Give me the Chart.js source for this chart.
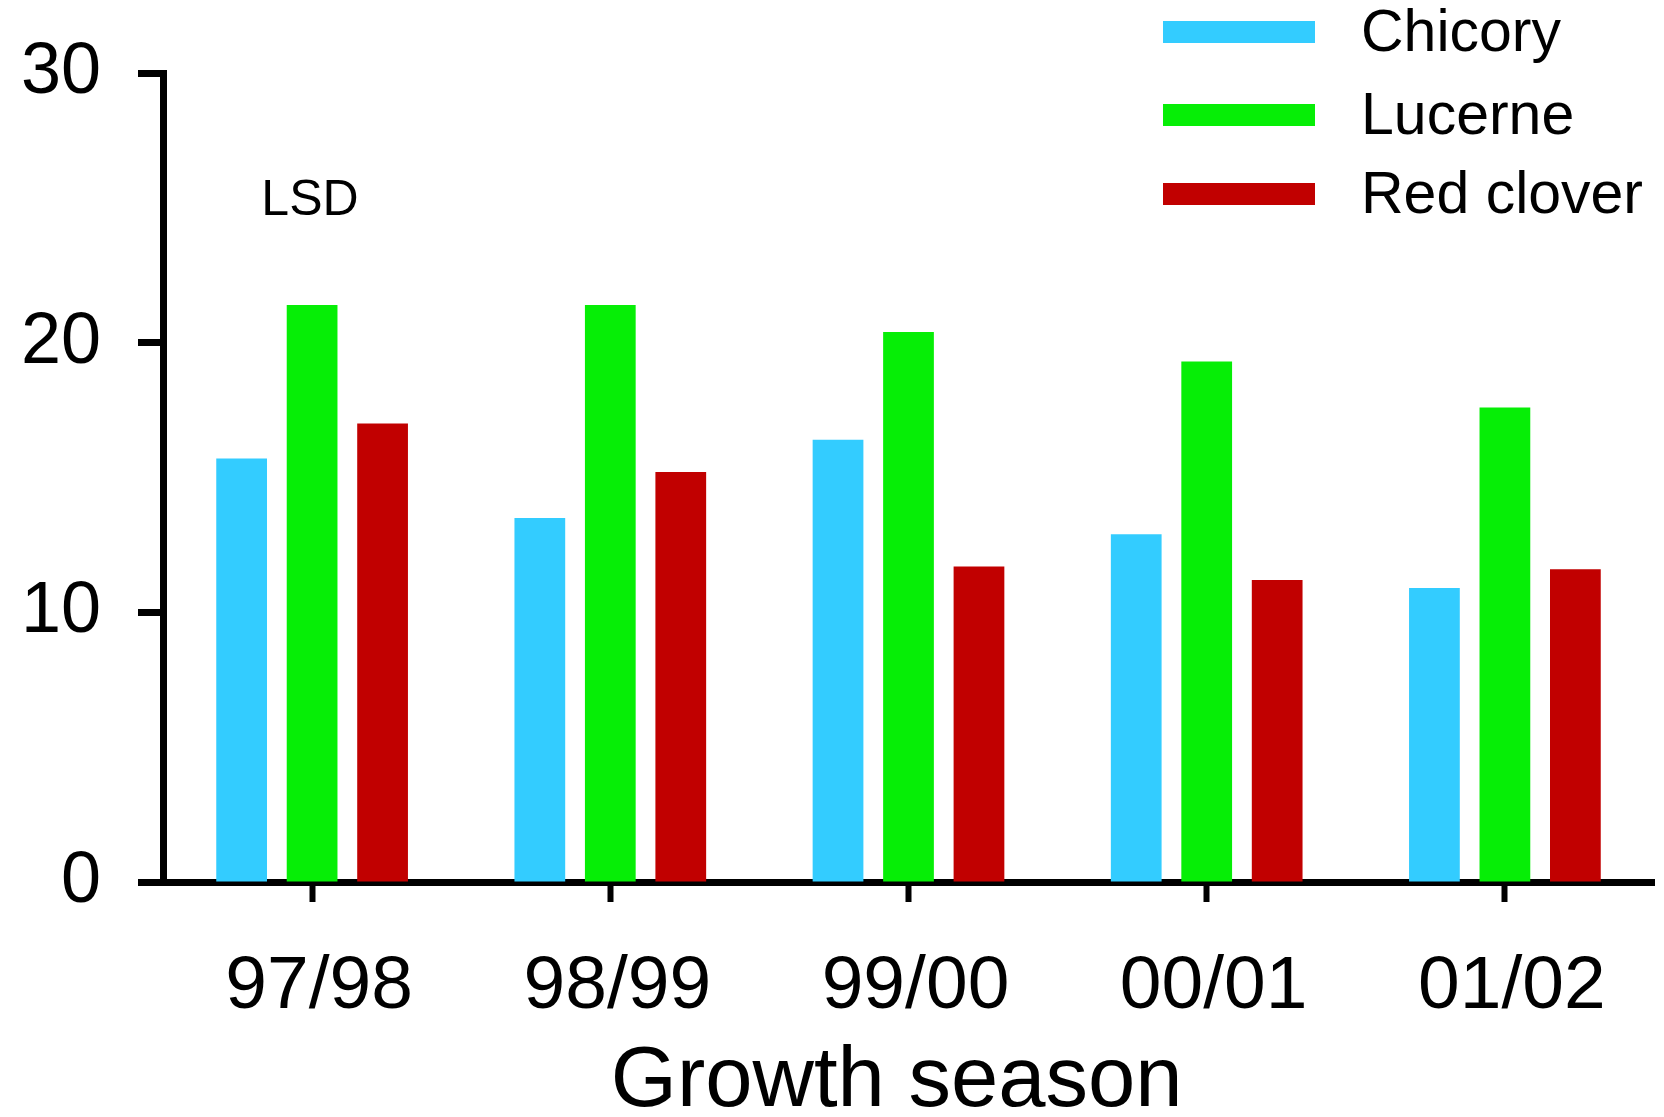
<!DOCTYPE html>
<html>
<head>
<meta charset="utf-8">
<script src="https://cdn.jsdelivr.net/npm/chart.js@4/dist/chart.umd.min.js"></script>
<style>
  html, body { margin: 0; padding: 0; background: #fff; }
  #wrap { width: 1664px; height: 1117px; }
</style>
</head>
<body>
<div id="wrap"><canvas id="grafico" width="1664" height="1117"></canvas></div>
<script>
/* dados */
const seasons = ['97/98', '98/99', '99/00', '00/01', '01/02']
const chicory = [15.7, 13.5, 16.4, 12.9, 10.9]
const lucerne = [21.4, 21.4, 20.4, 19.3, 17.6]
const redClover = [17.0, 15.2, 11.7, 11.2, 11.6]
const yTicks = [0, 10, 20, 30]

const FONT = '"Liberation Sans", Arial, sans-serif'

/* legenda desenhada a mao, com linhas grossas como no original */
const legendaPlugin = {
    id: 'legendaLinhas',
    afterDraw(chart) {
        const ctx = chart.ctx
        const linhas = [32, 115, 194]
        ctx.save()
        chart.data.datasets.forEach((ds, i) => {
            const y = linhas[i]
            ctx.fillStyle = ds.backgroundColor
            ctx.fillRect(1163, y - 11, 152, 22)
            ctx.fillStyle = '#000'
            ctx.font = '59px ' + FONT
            ctx.textBaseline = 'middle'
            ctx.textAlign = 'left'
            ctx.fillText(ds.label, 1361, y + 3)
        })
        /* texto LSD */
        ctx.font = '50px ' + FONT
        ctx.textAlign = 'center'
        ctx.fillText('LSD', 310, 201)
        ctx.restore()
    }
}

const ctx = document.getElementById('grafico').getContext('2d')
const chart = new Chart(ctx, {
    type: 'bar',
    data: {
        labels: seasons,
        datasets: [
            { label: 'Chicory', data: chicory, backgroundColor: '#33ccff' },
            { label: 'Lucerne', data: lucerne, backgroundColor: '#06ee06' },
            { label: 'Red clover', data: redClover, backgroundColor: '#c10000' }
        ]
    },
    options: {
        responsive: false,
        animation: false,
        devicePixelRatio: 1,
        layout: { padding: { left: 17, right: 10, top: 72, bottom: 0 } },
        datasets: { bar: { categoryPercentage: 0.709, barPercentage: 0.72 } },
        plugins: {
            legend: { display: false },
            tooltip: { enabled: false }
        },
        scales: {
            x: {
                afterFit(axis) { axis.height = 235 },
                grid: {
                    drawOnChartArea: false,
                    drawTicks: true,
                    tickLength: 20,
                    tickWidth: 6,
                    color: '#000',
                    offset: false
                },
                border: { color: '#000', width: 7 },
                ticks: {
                    color: '#000',
                    font: { family: FONT, size: 75, lineHeight: 1 },
                    padding: 48,
                    labelOffset: 7,
                    maxRotation: 0,
                    autoSkip: false
                },
                title: {
                    display: true,
                    text: 'Growth season ',
                    color: '#000',
                    font: { family: FONT, size: 85, lineHeight: 0.8 },
                    padding: { top: 17, bottom: 0 }
                }
            },
            y: {
                min: 0,
                max: 30,
                afterFit(axis) { axis.width = 146 },
                afterBuildTicks(axis) {
                    axis.ticks = yTicks.map(v => ({ value: v }))
                },
                grid: {
                    drawOnChartArea: false,
                    drawTicks: true,
                    tickLength: 25,
                    tickWidth: 7,
                    color: '#000'
                },
                border: { color: '#000', width: 7 },
                ticks: {
                    color: '#000',
                    font: { family: FONT, size: 72, lineHeight: 1 },
                    padding: 37
                }
            }
        }
    },
    plugins: [legendaPlugin]
})
</script>
</body>
</html>
